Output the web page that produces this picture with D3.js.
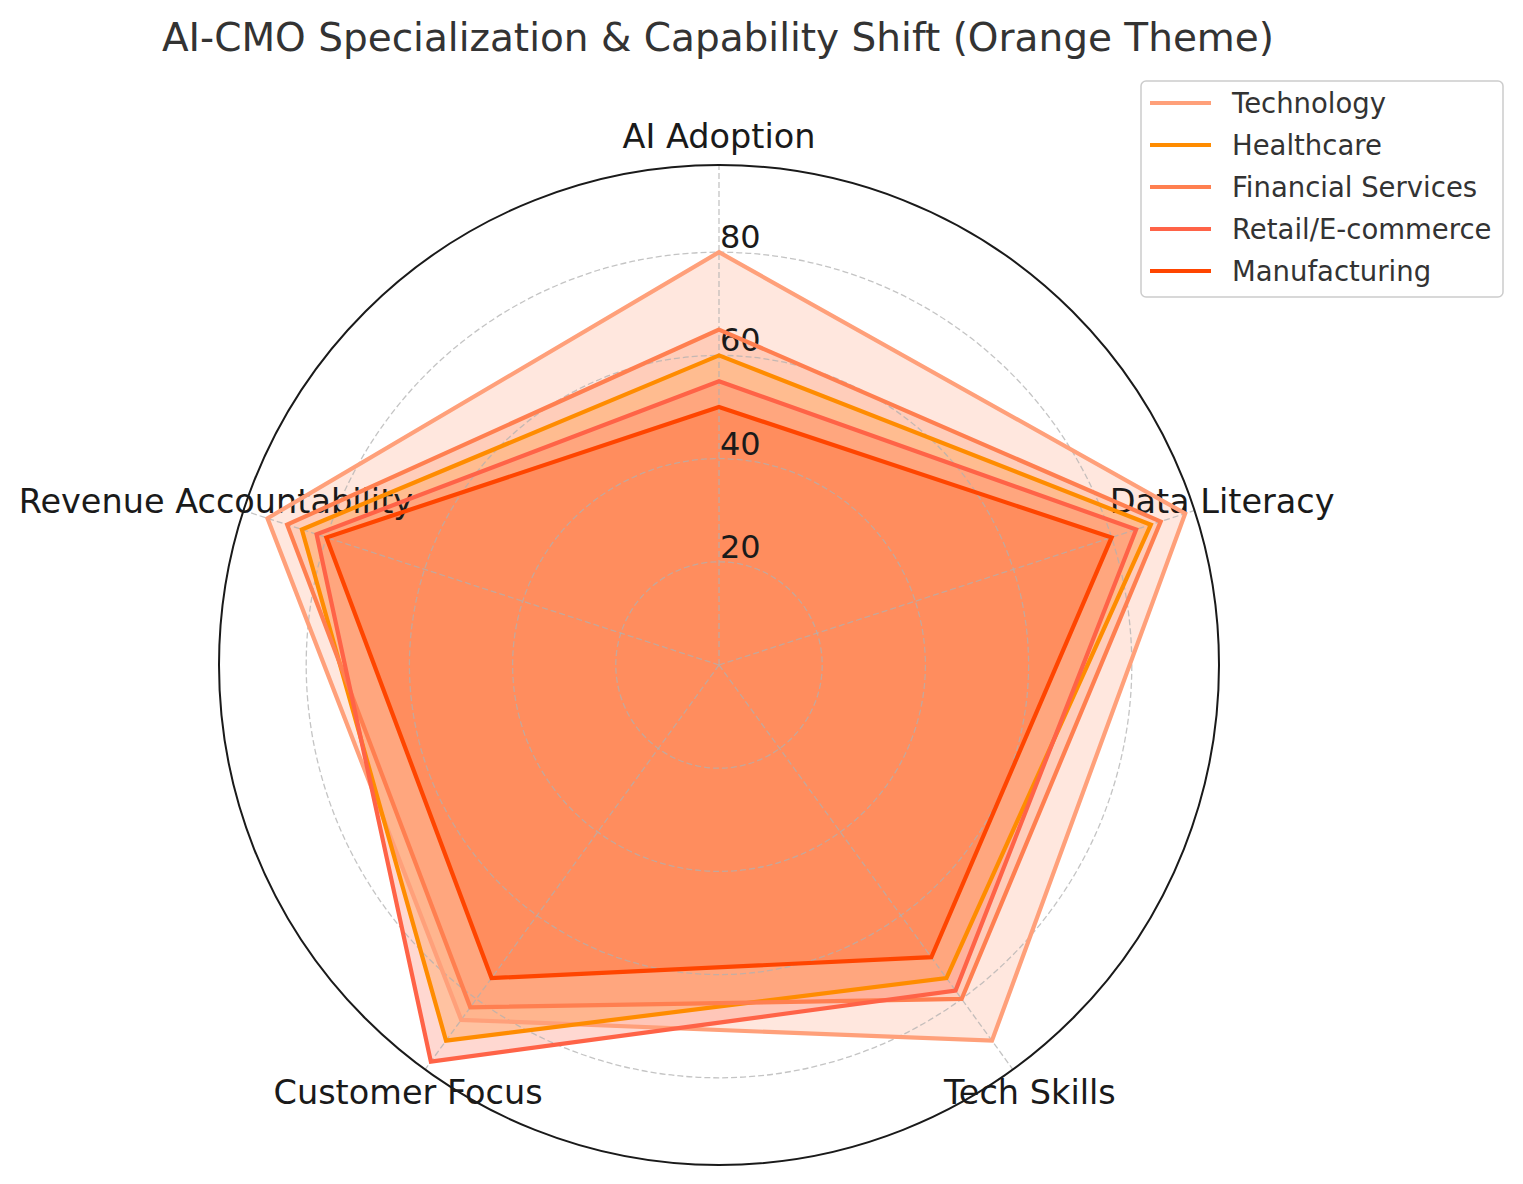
<!DOCTYPE html>
<html><head><meta charset="utf-8">
<script src="https://cdn.jsdelivr.net/npm/d3@7"></script>
<style>body{margin:0;background:#fff;} svg{display:block;}</style>
</head><body>
<svg id="chart" width="1523" height="1184"></svg>
<script>
const categories = ["AI Adoption", "Data Literacy", "Tech Skills", "Customer Focus", "Revenue Accountability"];
const seriesNames = ["Technology", "Healthcare", "Financial Services", "Retail/E-commerce", "Manufacturing"];
const technology = [80, 95, 90, 85, 92];
const healthcare = [60, 88, 75, 90, 85];
const financial = [65, 90, 80, 82, 88];
const retail = [55, 85, 78, 95, 82];
const manufacturing = [50, 80, 70, 75, 80];
const seriesColors = ["#FFA07A", "#FF8C00", "#FF7F50", "#FF6347", "#FF4500"];
const tickValues = [20, 40, 60, 80];
const seriesValues = [technology, healthcare, financial, retail, manufacturing];

const svg = d3.select("#chart");
const cx = 719, cy = 665, R = 500;
const rMax = 95 * 1.02;
const r = d3.scaleLinear().domain([0, rMax]).range([0, R]);
const ang = d3.scaleLinear().domain([0, categories.length]).range([0, 2 * Math.PI]);
const g = svg.append("g").attr("transform", `translate(${cx},${cy})`);
const pt = (i, v) => [Math.sin(ang(i)) * r(v), -Math.cos(ang(i)) * r(v)];

// fills
const line = d3.line().curve(d3.curveLinearClosed);
seriesValues.forEach((vals, s) => {
  g.append("path")
    .attr("d", line(vals.map((v, i) => pt(i, v))))
    .attr("fill", seriesColors[s]).attr("fill-opacity", 0.25).attr("stroke", "none");
});

// grid
tickValues.forEach(t => {
  g.append("circle").attr("r", r(t)).attr("fill", "none")
    .attr("stroke", "#b0b0b0").attr("stroke-opacity", 0.75).attr("stroke-width", 1.3)
    .attr("stroke-dasharray", "6,3");
});
categories.forEach((c, i) => {
  const [x, y] = pt(i, rMax);
  g.append("line").attr("x1", 0).attr("y1", 0).attr("x2", x).attr("y2", y)
    .attr("stroke", "#b0b0b0").attr("stroke-opacity", 0.75).attr("stroke-width", 1.3)
    .attr("stroke-dasharray", "6,3");
});
g.append("circle").attr("r", R).attr("fill", "none").attr("stroke", "#1a1a1a").attr("stroke-width", 2);

// tick labels
tickValues.forEach(t => {
  g.append("text").attr("x", 1).attr("y", -r(t) - 4)
    .attr("font-family", "DejaVu Sans").attr("font-size", 32).attr("fill", "#1a1a1a")
    .text(t);
});

// category labels
categories.forEach((c, i) => {
  const a = ang(i), rl = R + 29;
  g.append("text").attr("x", Math.sin(a) * rl).attr("y", -Math.cos(a) * rl)
    .attr("text-anchor", "middle").attr("dominant-baseline", "central")
    .attr("font-family", "DejaVu Sans").attr("font-size", 33.5).attr("fill", "#1a1a1a")
    .text(c);
});

// lines
seriesValues.forEach((vals, s) => {
  g.append("path")
    .attr("d", line(vals.map((v, i) => pt(i, v))))
    .attr("fill", "none").attr("stroke", seriesColors[s]).attr("stroke-width", 4.2)
    .attr("stroke-linejoin", "miter");
});

// title
svg.append("text").attr("x", 718).attr("y", 51).attr("text-anchor", "middle")
  .attr("font-family", "DejaVu Sans").attr("font-size", 39).attr("fill", "#333333")
  .text("AI-CMO Specialization & Capability Shift (Orange Theme)");

// legend
const lg = svg.append("g");
lg.append("rect").attr("x", 1141).attr("y", 81).attr("width", 362).attr("height", 216)
  .attr("rx", 5).attr("fill", "#fff").attr("fill-opacity", 0.8).attr("stroke", "#cccccc").attr("stroke-width", 1.5);
seriesNames.forEach((n, s) => {
  const y = 103 + s * 42;
  lg.append("line").attr("x1", 1150).attr("x2", 1211).attr("y1", y).attr("y2", y)
    .attr("stroke", seriesColors[s]).attr("stroke-width", 4.2);
  lg.append("text").attr("x", 1232).attr("y", y).attr("dominant-baseline", "central")
    .attr("font-family", "DejaVu Sans").attr("font-size", 27.5).attr("fill", "#333333").text(n);
});
</script>
</body></html>
